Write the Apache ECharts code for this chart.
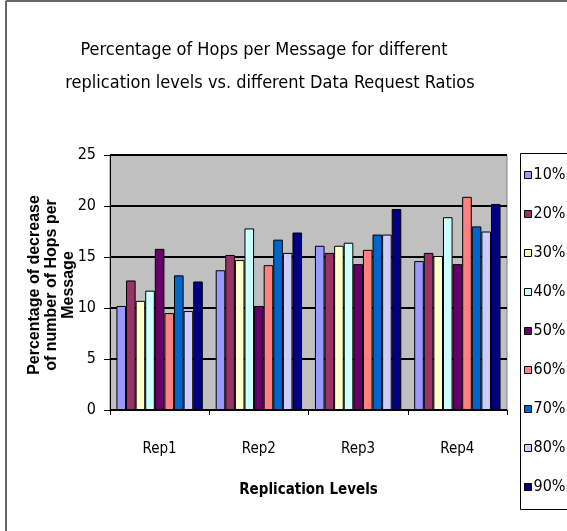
<!DOCTYPE html>
<html>
<head>
<meta charset="utf-8">
<script src="https://cdn.jsdelivr.net/npm/echarts@6/dist/echarts.min.js"></script>
<style>
  html, body { margin: 0; padding: 0; background: #fff; }
  #chart { width: 567px; height: 531px; }
</style>
</head>
<body>
<div id="chart"></div>
<script>
// Replication levels on the x axis
const categories = ['Rep1', 'Rep2', 'Rep3', 'Rep4'];
// Data request ratios (one series each)
const ratios = ['10%', '20%', '30%', '40%', '50%', '60%', '70%', '80%', '90%'];
// Percentage decrease of hops per message, per ratio, for Rep1..Rep4
const r10 = [10.2, 13.7, 16.1, 14.6];
const r20 = [12.7, 15.2, 15.4, 15.4];
const r30 = [10.7, 14.7, 16.1, 15.1];
const r40 = [11.7, 17.8, 16.4, 18.9];
const r50 = [15.8, 10.2, 14.3, 14.3];
const r60 = [9.5, 14.2, 15.7, 20.9];
const r70 = [13.2, 16.7, 17.2, 18.0];
const r80 = [9.7, 15.4, 17.2, 17.5];
const r90 = [12.6, 17.4, 19.7, 20.2];
const seriesValues = [r10, r20, r30, r40, r50, r60, r70, r80, r90];
const seriesColors = ['#9999FF', '#993366', '#FFFFCC', '#CCFFFF', '#660066',
                      '#FF8080', '#0066CC', '#CCCCFF', '#000080'];
// Value axis ticks
const yTicks = [0, 5, 10, 15, 20, 25];

const narrow = '"DejaVu Sans Condensed", "Liberation Sans Narrow", sans-serif';
const chart = echarts.init(document.getElementById('chart'), null, { renderer: 'canvas' });

chart.setOption({
  backgroundColor: '#ffffff',
  animation: false,
  grid: {
    left: 110, top: 155, right: 60, bottom: 121,
    show: true, backgroundColor: '#C0C0C0', borderColor: '#808080', borderWidth: 1
  },
  legend: {
    orient: 'vertical',
    left: 524, top: 167,
    padding: 0,
    itemWidth: 7, itemHeight: 7, itemGap: 23,
    icon: 'rect',
    data: ratios,
    textStyle: { fontFamily: narrow, fontSize: 16, color: '#000', lineHeight: 16, padding: [0, 0, 0, -3] },
    itemStyle: { borderColor: '#000', borderWidth: 1 }
  },
  xAxis: {
    type: 'category',
    data: categories,
    name: 'Replication Levels',
    nameLocation: 'middle',
    nameGap: 73,
    nameTextStyle: { fontFamily: narrow, fontSize: 15, fontWeight: 'bold', color: '#000' },
    axisLine: { lineStyle: { color: '#000', width: 1 } },
    axisTick: { show: true, length: 5, lineStyle: { color: '#000' } },
    axisLabel: { margin: 32, fontFamily: narrow, fontSize: 15, color: '#000' }
  },
  yAxis: {
    type: 'value',
    min: yTicks[0],
    max: yTicks[yTicks.length - 1],
    interval: yTicks[1] - yTicks[0],
    axisLine: { show: true, lineStyle: { color: '#000', width: 1 } },
    axisTick: { show: true, length: 6, lineStyle: { color: '#000' } },
    axisLabel: { margin: 14, fontFamily: narrow, fontSize: 16, color: '#000' },
    splitLine: { show: true, lineStyle: { color: '#000', width: 2 } }
  },
  series: ratios.map((name, i) => ({
    name: name,
    type: 'bar',
    data: seriesValues[i],
    barGap: '0%',
    barCategoryGap: '13%',
    itemStyle: { color: seriesColors[i], borderColor: '#000', borderWidth: 1 }
  })),
  graphic: [
    // chart area frame (left and top edges)
    { type: 'line', shape: { x1: 6, y1: 1, x2: 6, y2: 531 }, style: { stroke: '#666', lineWidth: 2 } },
    { type: 'line', shape: { x1: 6, y1: 1, x2: 567, y2: 1 }, style: { stroke: '#666', lineWidth: 2 } },
    // chart title, two centred lines
    { type: 'text', x: 264, y: 50,
      style: { text: 'Percentage of Hops per Message for different',
               fontFamily: narrow, fontSize: 18, fill: '#000', align: 'center', verticalAlign: 'middle' } },
    { type: 'text', x: 270, y: 83,
      style: { text: 'replication levels vs. different Data Request Ratios',
               fontFamily: narrow, fontSize: 18, fill: '#000', align: 'center', verticalAlign: 'middle' } },
    // legend frame
    { type: 'rect', shape: { x: 520.5, y: 153.5, width: 60, height: 356 },
      style: { fill: 'rgba(0,0,0,0)', stroke: '#000', lineWidth: 1 }, z: 100 },
    // value axis title
    { type: 'text', x: 52, y: 285, rotation: Math.PI / 2,
      style: { text: 'Percentage of decrease\nof number of Hops per\nMessage',
               fontFamily: '"Liberation Sans", Arial, sans-serif', fontWeight: 'bold', fontSize: 16,
               lineHeight: 17, fill: '#000', align: 'center', verticalAlign: 'middle' } }
  ]
});
</script>
</body>
</html>
